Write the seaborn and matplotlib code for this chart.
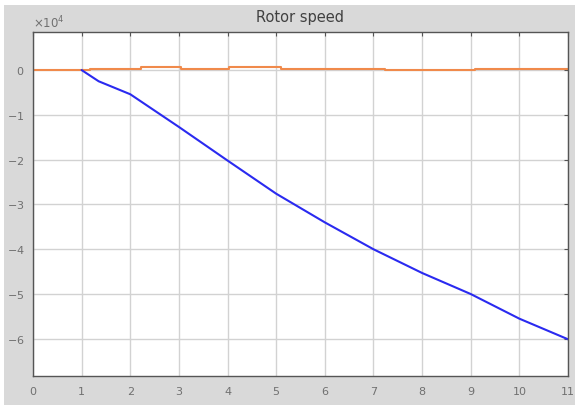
import matplotlib
matplotlib.use("Agg")
import matplotlib.pyplot as plt
from matplotlib.patches import Rectangle
import seaborn as sns
import pandas as pd

# blue trace (rotor speed, rad/s)
t_blue = [1, 1.35, 2, 3, 4, 5, 6, 7, 8, 9, 10, 11]
w_blue = [0, -2500, -5400, -12700, -20200, -27600, -34000, -40000, -45300, -50000, -55500, -60100]

# orange trace (reference, step-wise)
t_orange = [0, 1.17, 1.17, 2.23, 2.23, 3.04, 3.04, 4.02, 4.02, 5.09, 5.09, 7.24, 7.24, 9.09, 9.09, 11]
w_orange = [0, 0, 300, 300, 700, 700, 300, 300, 700, 700, 300, 300, 0, 0, 300, 300]

x_ticks = list(range(0, 12))
y_ticks = [-60000, -50000, -40000, -30000, -20000, -10000, 0]

sns.set_style("white")
plt.rcParams["axes.unicode_minus"] = False

fig = plt.figure(figsize=(5.77, 4.08), dpi=100)
fig.patch.set_facecolor("white")
fig.patches.append(Rectangle((4 / 577, 3 / 408), 571 / 577, 400 / 408,
                             transform=fig.transFigure, facecolor="#d9d9d9",
                             edgecolor="none", zorder=-10))

ax = fig.add_axes([33 / 577, 1 - 376 / 408, 535 / 577, 344 / 408])
ax.set_facecolor("white")

df_b = pd.DataFrame({"t": t_blue, "w": w_blue})
df_o = pd.DataFrame({"t": t_orange, "w": w_orange})
sns.lineplot(data=df_o, x="t", y="w", ax=ax, color="#f08a4b", lw=1.5,
             sort=False, estimator=None)
sns.lineplot(data=df_b, x="t", y="w", ax=ax, color="#2a2af0", lw=1.5,
             sort=False, estimator=None)

ax.set_xlim(0, 11)
ax.set_ylim(-68300, 8500)
ax.set_xticks(x_ticks)
ax.set_yticks(y_ticks)
ax.ticklabel_format(axis="y", style="sci", scilimits=(0, 0), useMathText=True)
ax.yaxis.get_offset_text().set_fontsize(8.5)
ax.yaxis.get_offset_text().set_color("#707070")

ax.grid(True, color="#d2d2d2", lw=1)
ax.set_axisbelow(True)
for s in ax.spines.values():
    s.set_color("#555555")
    s.set_linewidth(1)
ax.tick_params(direction="in", length=3, width=0.8, color="#555555",
               top=True, right=True, labelsize=8, labelcolor="#707070")
ax.tick_params(axis="x", pad=8)
ax.tick_params(axis="y", pad=6)
ax.set_xlabel("")
ax.set_ylabel("")
ax.set_title("Rotor speed", fontsize=10.5, color="#404040", pad=7)

fig.savefig("out.png", dpi=100, facecolor=fig.get_facecolor())
